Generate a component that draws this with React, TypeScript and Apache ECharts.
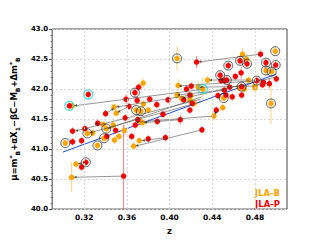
import React, { useEffect, useRef } from "react";
import * as echarts from "echarts";

// JLA-B (orange)
const bZ = [0.3023,0.3082,0.3123,0.3088,0.3230,0.3280,0.3324,0.3377,0.3386,0.3407,0.3480,0.3471,0.3483,0.3500,0.3525,0.3575,0.3663,0.3687,0.3716,0.3725,0.3731,0.3752,0.3755,0.3746,0.3800,0.4070,0.4080,0.4070,0.4115,0.4190,0.4200,0.4230,0.4268,0.4312,0.4356,0.4415,0.4498,0.4507,0.4683,0.4720,0.4740,0.4654,0.4700,0.4800,0.4800,0.4903,0.4956,0.4990,0.4950];
const bMu = [41.10,40.53,40.75,41.72,41.26,41.27,41.06,41.41,41.18,41.34,41.70,41.40,41.15,41.60,41.21,41.31,41.05,41.65,41.14,41.46,41.63,42.10,41.75,41.44,41.65,42.51,42.06,41.90,41.84,41.82,41.89,41.76,42.03,42.00,42.15,41.55,41.69,41.85,42.58,42.50,42.15,42.02,42.00,42.05,42.02,42.31,42.29,42.63,41.76];
const bErr = [0.06,0.25,0.06,0.08,0.06,0.06,0.06,0.06,0.06,0.06,0.06,0.08,0.06,0.06,0.06,0.10,0.06,0.06,0.06,0.06,0.06,0.08,0.06,0.06,0.06,0.20,0.10,0.06,0.06,0.06,0.06,0.08,0.10,0.20,0.06,0.08,0.06,0.06,0.10,0.08,0.06,0.06,0.06,0.06,0.06,0.08,0.08,0.08,0.35];
const bCircled = [0,4,6,8,9,17,20,25,37,45,46,47,48];
const bCyan = [33];

// JLA-P (red)
const pZ = [0.3061,0.3238,0.3091,0.3091,0.3176,0.3176,0.3215,0.3206,0.3327,0.3401,0.3412,0.3495,0.3569,0.3592,0.3584,0.3619,0.3645,0.3675,0.3678,0.3696,0.3710,0.3702,0.3814,0.3800,0.3885,0.3880,0.3938,0.3961,0.3985,0.4100,0.4132,0.4158,0.4190,0.4190,0.4203,0.4212,0.4253,0.4303,0.4438,0.4453,0.4474,0.4483,0.4513,0.4518,0.4536,0.4550,0.4528,0.4563,0.4587,0.4616,0.4660,0.4670,0.4675,0.4675,0.4725,0.4817,0.4852,0.4880,0.4871,0.4903,0.4935,0.4994,0.5000];
const pMu = [41.72,41.91,41.30,41.12,41.14,40.70,40.78,41.34,41.43,41.59,41.21,41.31,40.55,41.83,41.52,41.71,41.21,41.94,41.40,41.81,42.03,41.49,41.83,41.17,41.46,41.74,41.58,41.19,41.82,41.49,41.82,42.00,41.90,41.65,42.05,41.76,42.45,41.32,41.65,41.89,42.23,42.14,41.98,42.14,42.15,42.39,41.90,42.03,41.87,42.21,42.47,42.27,42.04,41.90,42.42,42.14,42.58,42.11,42.07,42.44,42.09,42.40,42.17];
const pErr = [0.06,0.06,0.06,0.06,0.06,0.06,0.06,0.06,0.06,0.06,0.06,0.06,0.85,0.08,0.06,0.06,0.06,0.08,0.06,0.06,0.06,0.06,0.06,0.06,0.06,0.06,0.06,0.06,0.06,0.08,0.06,0.06,0.06,0.06,0.06,0.06,0.10,0.06,0.06,0.06,0.06,0.06,0.06,0.06,0.06,0.06,0.06,0.06,0.06,0.06,0.06,0.10,0.06,0.06,0.06,0.06,0.06,0.06,0.06,0.06,0.08,0.06,0.06];
const pCircled = [6,17,40,44,45,50,52,54,55,59,61];
const pCyan = [0,1];

// links (from -> to, arrow at "to")
const linkFromZ = [0.4290,0.4290,0.4300,0.4300,0.4200,0.4303,0.4100,0.3961,0.3569,0.4852,0.5000,0.4800,0.4740,0.4817,0.4513,0.4415,0.3215,0.3619,0.3401,0.4438,0.3327];
const linkFromMu = [41.99,41.83,41.79,41.87,41.90,41.32,41.49,41.19,40.55,42.58,42.20,42.05,42.15,42.14,41.98,41.55,40.78,41.71,41.59,41.65,41.43];
const linkToZ = [0.3105,0.3115,0.3250,0.3420,0.3500,0.3680,0.3760,0.3740,0.3100,0.4270,0.4120,0.4280,0.4370,0.4085,0.4070,0.3680,0.3140,0.3510,0.3480,0.4425,0.3300];
const linkToMu = [41.72,41.30,41.27,41.34,41.70,41.05,41.44,41.14,40.53,42.45,41.84,42.03,42.15,42.05,41.90,41.45,40.75,41.61,41.68,41.57,41.41];

// fit line
const fitZ = [0.300, 0.500];
const fitMu = [40.95, 42.25];

const xTicks = [0.32, 0.36, 0.40, 0.44, 0.48];

const ORANGE = "#ffa500";
const RED = "#ff0000";
const FONT = "DejaVu Sans";

export default function App() {
  const ref = useRef<HTMLDivElement>(null);
  useEffect(() => {
    if (!ref.current) return;
    const chart = echarts.init(ref.current, null, { renderer: "svg" });
    const errData = (z: number[], m: number[], e: number[]) => z.map((v, i) => [v, m[i], e[i]]);
    const errSeries = (data: number[][], color: string) => ({
      type: "custom",
      z: 1,
      clip: true,
      data,
      renderItem: (params: any, api: any) => {
        const x = api.value(0), y = api.value(1), e = api.value(2);
        const p1 = api.coord([x, y - e]);
        const p2 = api.coord([x, y + e]);
        return {
          type: "line",
          shape: { x1: p1[0], y1: p1[1], x2: p2[0], y2: p2[1] },
          style: { stroke: color, lineWidth: 1, opacity: 0.5 },
        };
      },
    });
    const linkData = linkFromZ.map((v, i) => [v, linkFromMu[i], linkToZ[i], linkToMu[i]]);
    const pick = (z: number[], m: number[], idx: number[]) => idx.map((i) => [z[i], m[i]]);

    chart.setOption({
      animation: false,
      grid: { left: 40, right: 33, top: 29, bottom: 27, show: true, borderColor: "#444", borderWidth: 1 },
      xAxis: {
        type: "value",
        min: 0.29,
        max: 0.51,
        interval: 0.01,
        name: "z",
        nameLocation: "middle",
        nameGap: 13,
        nameTextStyle: { fontFamily: FONT, fontWeight: "bold", fontSize: 8.5, color: "#000" },
        axisLine: { show: false },
        axisTick: { show: false },
        splitLine: { show: false },
        axisLabel: {
          customValues: xTicks,
          fontFamily: FONT,
          fontWeight: "bold",
          fontSize: 7.5,
          color: "#000",
          margin: 4,
          formatter: (v: number) => {
            const k = v / 0.04;
            return Math.abs(k - Math.round(k)) < 1e-6 && v > 0.3 && v < 0.5 ? v.toFixed(2) : "";
          },
        },
      },
      yAxis: {
        type: "value",
        min: 40,
        max: 43,
        interval: 0.5,
        name: "{t|μ=m}{s|*}{b|B}{t|+αX}{b|1}{t|−βC−M}{b|B}{t|+Δm}{s|*}{b|B}",
        nameLocation: "middle",
        nameGap: 23,
        nameTextStyle: {
          fontFamily: FONT,
          fontWeight: "bold",
          color: "#000",
          rich: {
            t: { fontFamily: FONT, fontWeight: "bold", fontSize: 8.5, lineHeight: 12, verticalAlign: "middle", color: "#000" },
            s: { fontFamily: FONT, fontWeight: "bold", fontSize: 6, lineHeight: 12, verticalAlign: "top", color: "#000" },
            b: { fontFamily: FONT, fontWeight: "bold", fontSize: 6, lineHeight: 12, verticalAlign: "bottom", color: "#000" },
          },
        },
        axisLine: { show: false },
        axisTick: { show: true, length: 3, lineStyle: { color: "#444" } },
        minorTick: { show: true, splitNumber: 5, length: 1.5, lineStyle: { color: "#666" } },
        splitLine: { show: true, lineStyle: { color: "#d6d6d6", type: [2, 2], width: 1 } },
        axisLabel: {
          fontFamily: FONT,
          fontWeight: "bold",
          fontSize: 7,
          color: "#000",
          margin: 4,
          formatter: (v: number) => v.toFixed(1),
        },
      },
      graphic: [
        { type: "text", right: 40, top: 188, style: { text: "JLA-B", fill: ORANGE, font: `bold 8.5px "${FONT}"` } },
        { type: "text", right: 40, top: 199, style: { text: "JLA-P", fill: RED, font: `bold 8.5px "${FONT}"` } },
      ],
      series: [
        errSeries(errData(bZ, bMu, bErr), ORANGE),
        errSeries(errData(pZ, pMu, pErr), RED),
        {
          type: "line",
          z: 2,
          data: fitZ.map((v, i) => [v, fitMu[i]]),
          symbol: "none",
          lineStyle: { color: "#1f4fd8", width: 1 },
          markLine: {
            silent: true,
            symbol: "none",
            label: { show: false },
            lineStyle: { color: "#d6d6d6", type: [2, 2], width: 1 },
            data: xTicks.map((v) => ({ xAxis: v })),
          },
        },
        {
          type: "scatter",
          z: 3,
          data: bZ.map((v, i) => [v, bMu[i]]),
          symbolSize: 5.5,
          itemStyle: { color: ORANGE, opacity: 1 },
        },
        {
          type: "scatter",
          z: 3,
          data: pZ.map((v, i) => [v, pMu[i]]),
          symbolSize: 5.5,
          itemStyle: { color: RED, opacity: 1 },
        },
        {
          type: "custom",
          z: 4,
          clip: true,
          data: linkData,
          renderItem: (params: any, api: any) => {
            const a = api.coord([api.value(0), api.value(1)]);
            const b = api.coord([api.value(2), api.value(3)]);
            const dx = b[0] - a[0], dy = b[1] - a[1];
            const len = Math.sqrt(dx * dx + dy * dy) || 1;
            const ux = dx / len, uy = dy / len;
            const hl = 3, hw = 1.4;
            const bx = b[0] - ux * hl, by = b[1] - uy * hl;
            return {
              type: "group",
              children: [
                { type: "line", shape: { x1: a[0], y1: a[1], x2: bx, y2: by }, style: { stroke: "#444", lineWidth: 0.8, opacity: 0.7 } },
                {
                  type: "polygon",
                  shape: { points: [[b[0], b[1]], [bx - uy * hw, by + ux * hw], [bx + uy * hw, by - ux * hw]] },
                  style: { fill: "#222", opacity: 0.8 },
                },
              ],
            };
          },
        },
        {
          type: "scatter",
          z: 5,
          data: pick(bZ, bMu, bCircled).concat(pick(pZ, pMu, pCircled)),
          symbolSize: 9,
          itemStyle: { color: "rgba(0,0,0,0)", borderColor: "#222", borderWidth: 0.9 },
        },
        {
          type: "scatter",
          z: 5,
          data: pick(bZ, bMu, bCyan).concat(pick(pZ, pMu, pCyan)),
          symbolSize: 9,
          itemStyle: { color: "rgba(0,0,0,0)", borderColor: "#2ad4d4", borderWidth: 1.3 },
        },
      ],
    });
    return () => chart.dispose();
  }, []);
  return <div ref={ref} style={{ width: 320, height: 240, position: "absolute", left: 0, top: 0 }} />;
}
